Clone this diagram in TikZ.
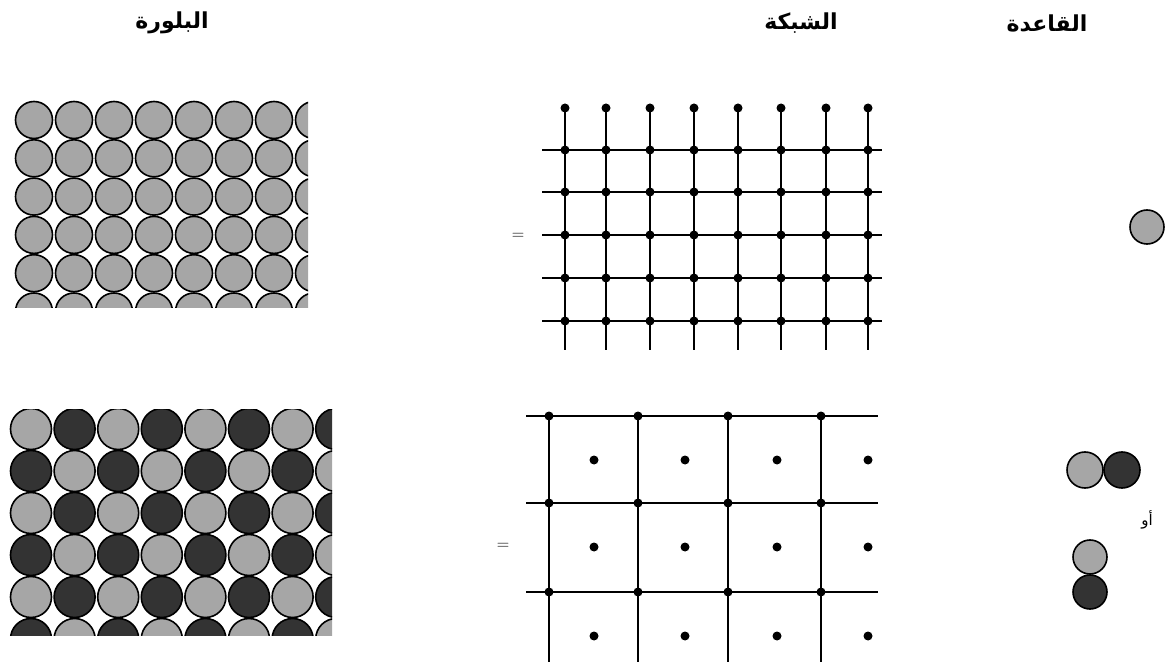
\documentclass[tikz,border=0pt]{standalone}
\usepackage{fontspec}
\newfontfamily\arabicfont[Script=Arabic]{DejaVu Sans}
\TeXXeTstate=1
\definecolor{atomlight}{HTML}{A6A6A6}
\definecolor{atomdark}{HTML}{333333}

\begin{document}
\begin{tikzpicture}[
    x=1pt, y=-1pt,
    title/.style={font=\arabicfont\bfseries\fontsize{22}{24}\selectfont, inner sep=0pt},
    smalltext/.style={font=\arabicfont\fontsize{15}{17}\selectfont, inner sep=0pt},
    lightatom/.style={draw=black, line width=1.6pt, fill=atomlight},
    darkatom/.style={draw=black, line width=1.6pt, fill=atomdark},
    latline/.style={draw=black, line width=1.6pt},
    latdot/.style={fill=black}
]
\useasboundingbox (0,0) rectangle (1168,668);

% titles
\node (crystal) [title] at (172,23) {\beginR البلورة\endR};
\node (lattice) [title] at (801,23) {\beginR الشبكة\endR};
\node (basis) [title] at (1047,23) {\beginR القاعدة\endR};

% top crystal
\begin{scope}
\clip (10,95) rectangle (308,308);
\foreach \i in {0,...,7}
  \foreach \j in {0,...,5}
    \draw[lightatom] (34+40*\i,120+38.3*\j) circle[radius=18.5pt];
\end{scope}

% bottom crystal
\begin{scope}
\clip (8,410) rectangle (332,635);
\foreach \i in {0,...,7}
  \foreach \j in {0,...,5} {
    \pgfmathtruncatemacro\parity{\i+\j}
    \ifodd\parity \def\shade{darkatom}\else\def\shade{lightatom}\fi
    \draw[\shade] (31+43.6*\i,429+42*\j) circle[radius=20.5pt];
  }
\end{scope}

% equal signs
\node (eqtop) at (518,236) {\LARGE$=$};
\node (eqbot) at (503,546) {\LARGE$=$};

% top lattice
\foreach \x in {565,606,650,694,738,781,826,868} {
  \draw[latline] (\x,108) -- (\x,350);
  \fill[latdot] (\x,108) circle[radius=4.5pt];
}
\foreach \y in {150,192,235,278,321} {
  \draw[latline] (542,\y) -- (882,\y);
  \foreach \x in {565,606,650,694,738,781,826,868}
    \fill[latdot] (\x,\y) circle[radius=4.5pt];
}

% bottom lattice
\foreach \x in {549,638,728,821}
  \draw[latline] (\x,416) -- (\x,662);
\foreach \y in {416,503,592} {
  \draw[latline] (526,\y) -- (878,\y);
  \foreach \x in {549,638,728,821}
    \fill[latdot] (\x,\y) circle[radius=4.5pt];
}
\foreach \x in {594,685,777,868}
  \foreach \y in {460,547,636}
    \fill[latdot] (\x,\y) circle[radius=4.5pt];

% basis
\draw[lightatom] (1147,227) circle[radius=17pt];
\draw[lightatom] (1085,470) circle[radius=18pt];
\draw[darkatom] (1122,470) circle[radius=18pt];
\node (orlabel) [smalltext] at (1147,520) {\beginR أو\endR};
\draw[lightatom] (1090,557) circle[radius=17pt];
\draw[darkatom] (1090,592) circle[radius=17pt];
\end{tikzpicture}
\end{document}
